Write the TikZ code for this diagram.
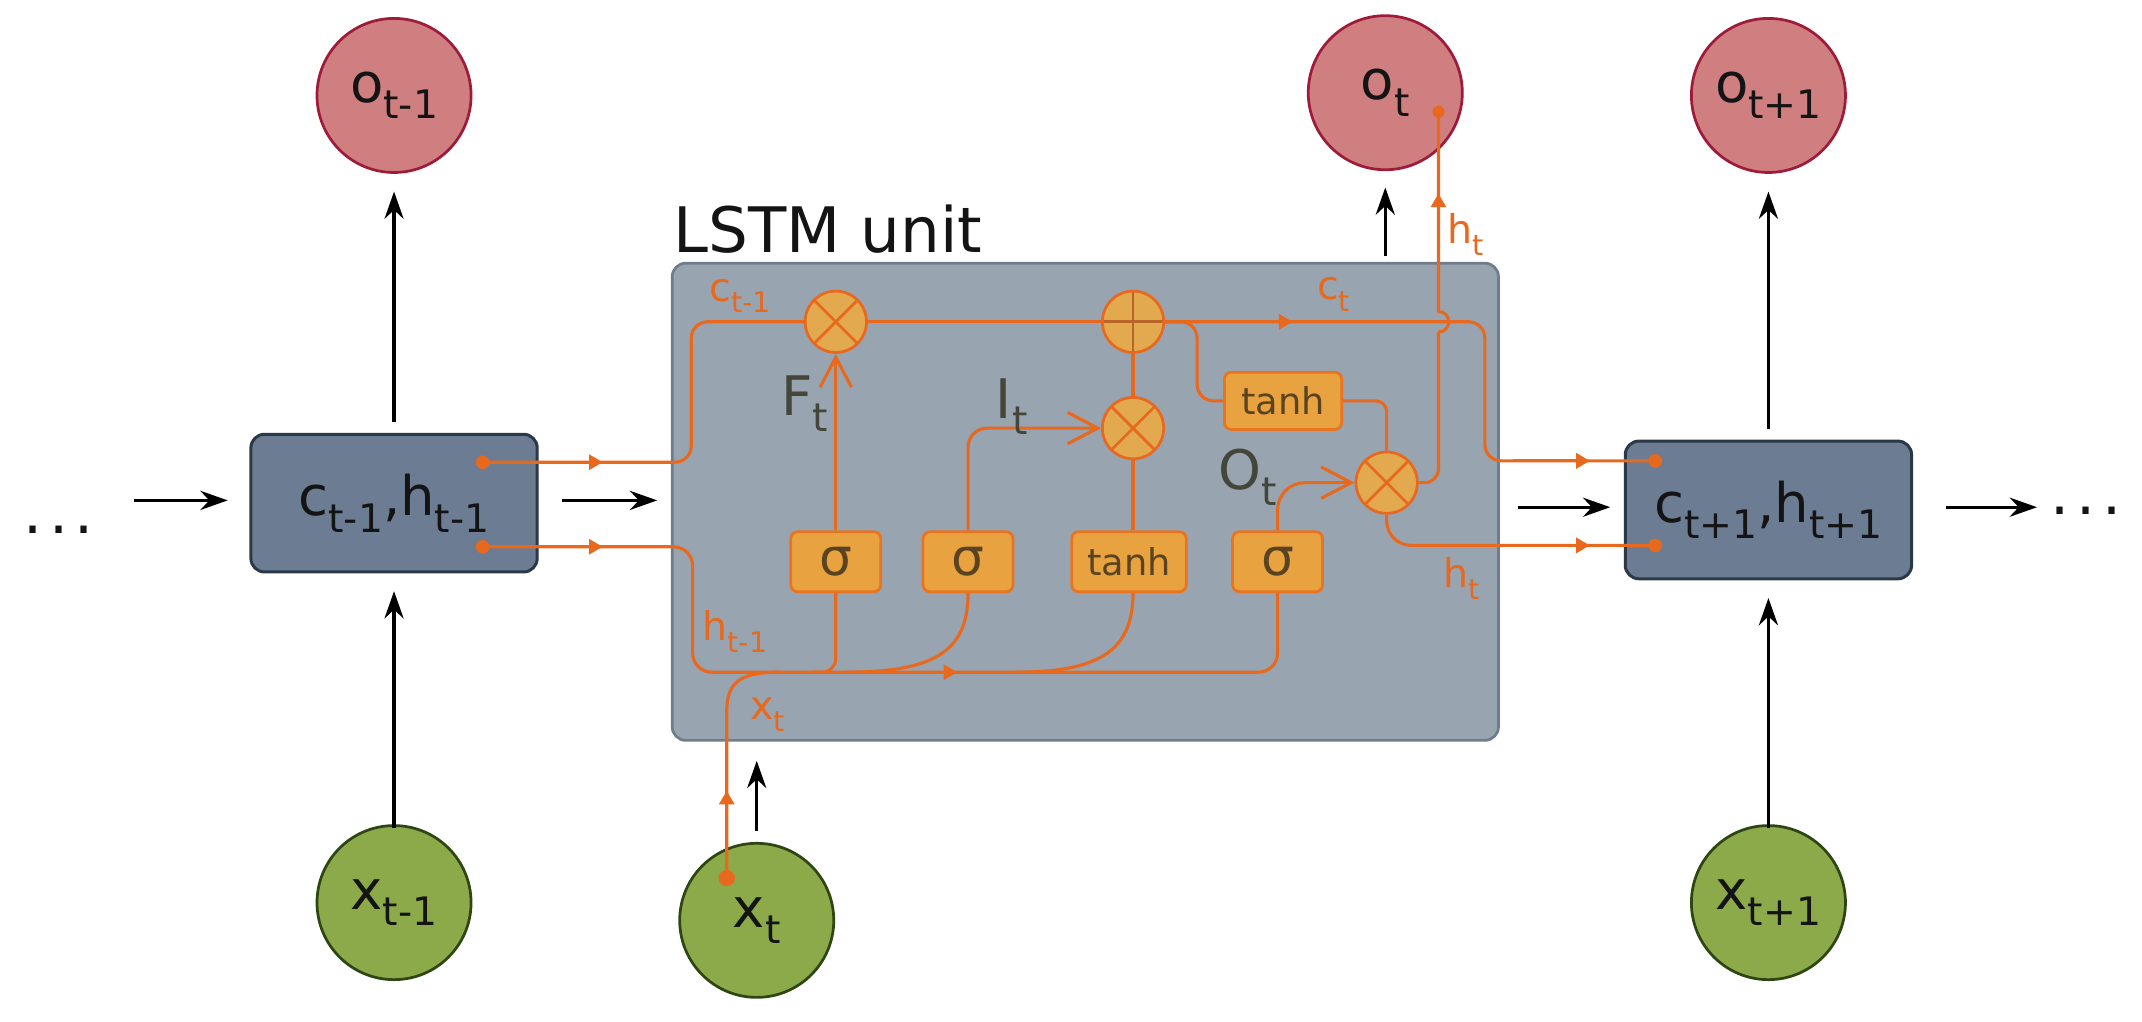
\documentclass[tikz,border=0pt]{standalone}
\usepackage{fontspec}
\setmainfont{DejaVu Sans}
\usepackage{graphicx}
\usetikzlibrary{arrows.meta}
\definecolor{redf}{HTML}{D07F80}
\definecolor{redb}{HTML}{9E1B3A}
\definecolor{greenf}{HTML}{8DAA4B}
\definecolor{greenb}{HTML}{2E4612}
\definecolor{boxf}{HTML}{6C7D93}
\definecolor{boxb}{HTML}{2B3848}
\definecolor{lstmf}{HTML}{99A4B1}
\definecolor{lstmb}{HTML}{6E7C8C}
\definecolor{orl}{HTML}{E8691E}
\definecolor{gatef}{HTML}{E8A23F}
\definecolor{gateb}{HTML}{E8741F}
\definecolor{opf}{HTML}{E2A94F}
\definecolor{gatet}{HTML}{5A4320}
\definecolor{lblt}{HTML}{45463A}
\definecolor{plusl}{HTML}{B8652A}
\definecolor{inkc}{HTML}{141414}
\newcommand\sbs[1]{\raisebox{-0.3em}{\scalebox{0.72}{#1}}}
\newcommand\fsz[1]{\fontsize{#1}{#1}\selectfont}
\newcommand\spdots{.\hspace{5pt}.\hspace{5pt}.}
\begin{document}
\begin{tikzpicture}[x=1pt,y=-1pt,line join=round,
  rcirc/.style={circle, draw=redb, fill=redf, line width=2pt, minimum size=113pt, inner sep=0pt, font=\fsz{40}, text=inkc},
  gcirc/.style={circle, draw=greenb, fill=greenf, line width=2pt, minimum size=113pt, inner sep=0pt, font=\fsz{40}, text=inkc},
  hbox/.style={rectangle, rounded corners=10pt, draw=boxb, fill=boxf, line width=2.2pt, minimum width=210pt, minimum height=101pt, inner sep=0pt, font=\fsz{40}, text=inkc},
  lstm/.style={rectangle, rounded corners=10pt, draw=lstmb, fill=lstmf, line width=2pt, minimum width=606pt, minimum height=350pt},
  gate/.style={rectangle, rounded corners=5pt, draw=gateb, fill=gatef, line width=2pt, minimum height=44pt, inner sep=0pt, text=gatet},
  opc/.style={circle, draw=orl, fill=opf, line width=2pt, minimum size=45pt, inner sep=0pt},
  xop/.style={path picture={\draw[orl, line width=2pt]
     ([shift={(-30pt,-30pt)}]path picture bounding box.center) -- ([shift={(30pt,30pt)}]path picture bounding box.center)
     ([shift={(-30pt,30pt)}]path picture bounding box.center) -- ([shift={(30pt,-30pt)}]path picture bounding box.center);}},
  pop/.style={path picture={\draw[plusl, line width=2pt]
     ([shift={(-30pt,0pt)}]path picture bounding box.center) -- ([shift={(30pt,0pt)}]path picture bounding box.center)
     ([shift={(0pt,30pt)}]path picture bounding box.center) -- ([shift={(0pt,-30pt)}]path picture bounding box.center);}},
  wire/.style={draw=orl, line width=2.3pt},
  tri/.style={wire, -{Triangle[length=10pt,width=11pt]}},
  barb/.style={-{Straight Barb[length=22pt,width=23pt]}},
  barrow/.style={draw=black, line width=2.4pt, -{Stealth[length=20pt,width=14pt]}},
  olbl/.style={text=orl, font=\fsz{29}, inner sep=0pt},
  glbl/.style={text=lblt, font=\fsz{40}, inner sep=0pt}
]
\useasboundingbox (0,0) rectangle (1571,749);

% outer circles
\node[rcirc] (o1) at (289,70) {o\sbs{t-1}};
\node[rcirc] (o2) at (1016,68) {o\sbs{t}};
\node[rcirc] (o3) at (1297,70) {o\sbs{t+1}};
\node[gcirc] (x1) at (289,662) {x\sbs{t-1}};
\node[gcirc] (x2) at (555,675) {x\sbs{t}};
\node[gcirc] (x3) at (1297,662) {x\sbs{t+1}};

% state boxes
\node[hbox] (h1) at (289,369) {c\sbs{t-1},h\sbs{t-1}};
\node[hbox] (h3) at (1297,374) {c\sbs{t+1},h\sbs{t+1}};

% LSTM cell
\node[lstm] (cell) at (796,368) {};
\node[anchor=base west, font=\fsz{46}, text=inkc, inner sep=0pt] (title) at (494,185) {LSTM unit};

% operators
\node[opc, xop] (fx) at (613,236) {};
\node[opc, pop] (plus) at (831,236) {};
\node[opc, xop] (ix) at (831,314) {};
\node[opc, xop] (ox) at (1017,354) {};

% gates
\node[gate, minimum width=66pt, font=\fsz{38}] (sg1) at (613,412) {σ};
\node[gate, minimum width=66pt, font=\fsz{38}] (sg2) at (710,412) {σ};
\node[gate, minimum width=84pt, font=\fsz{27}] (lt) at (828,412) {tanh};
\node[gate, minimum width=66pt, font=\fsz{38}] (sg3) at (937,412) {σ};
\node[gate, minimum width=86pt, minimum height=42pt, font=\fsz{27}] (ut) at (941,294) {tanh};

% dots
\node[font=\fsz{44}, anchor=base, text=inkc, inner sep=0pt] (dl) at (43,391) {\spdots};
\node[font=\fsz{44}, anchor=base, text=inkc, inner sep=0pt] (dr) at (1530,377) {\spdots};

% black arrows
\coordinate (a1s) at (98,367);  \coordinate (a1e) at (167,367);
\coordinate (a2s) at (412,367); \coordinate (a2e) at (482,367);
\coordinate (a3s) at (1113,372); \coordinate (a3e) at (1181,372);
\coordinate (a4s) at (1427,372); \coordinate (a4e) at (1494,372);
\draw[barrow] (a1s) -- (a1e);
\draw[barrow] (a2s) -- (a2e);
\draw[barrow] (a3s) -- (a3e);
\draw[barrow] (a4s) -- (a4e);
\draw[barrow] ([yshift=8pt]h1.north) -- ([yshift=-13pt]o1.south);
\draw[barrow] ([yshift=-3pt]x1.north) -- ([yshift=-13pt]h1.south);
\draw[barrow] ([yshift=8pt]h3.north) -- ([yshift=-13pt]o3.south);
\draw[barrow] ([yshift=-3pt]x3.north) -- ([yshift=-13pt]h3.south);
\draw[barrow] ([yshift=4pt]cell.north -| o2) -- ([yshift=-12pt]o2.south);
\draw[barrow] ([yshift=8pt]x2.north) -- ([yshift=-14pt]x2.north |- cell.south);

% orange wires
\coordinate (ld1) at (354,339);
\coordinate (ld2) at (354,401);
\coordinate (rd1) at (1214,338);
\coordinate (rd2) at (1214,400);
\coordinate (xd) at (533,644);
\coordinate (od) at (1055,82);

% cell state
\draw[wire, rounded corners=12pt] (ld1) -- (507,339) -- (507,236) -- (fx.west);
\draw[tri] (ld1) -- (442,339);
\draw[wire] (fx.east) -- (plus.west);
\draw[wire, rounded corners=12pt] (plus.east) -- (1089,236) -- (1089,338) -- (rd1);
\draw[tri] (plus.east) -- (948,236);
\draw[tri] (1110,338) -- (1166,338);
\draw[wire, rounded corners=12pt] (plus.east) -- (878,236) -- (878,294) -- (ut.west);
\draw[wire, rounded corners=8pt] (ut.east) -- (ut.east -| ox) -- (ox.north);

% hidden output
\draw[wire, rounded corners=10pt] (ox.east) -- (1055,354) -- (1055,243.5);
\draw[wire] (1055,243.5) .. controls (1065,243.5) and (1065,228.5) .. (1055,228.5) -- (od);
\draw[tri] (1055,200) -- (1055,142);
\draw[wire, rounded corners=18pt] (ox.south) -- (ox.south |- rd2) -- (rd2);
\draw[tri] (1110,400) -- (1166,400);

% gate connections
\draw[wire, barb] (sg1.north) -- (fx.south);
\draw[wire, rounded corners=14pt, barb] (sg2.north) -- (sg2.north |- ix.west) -- (ix.west);
\draw[wire] (lt.north -| ix) -- (ix.south);
\draw[wire] (plus.south) -- (ix.north);
\draw[wire, rounded corners=20pt, barb] (sg3.north) -- (sg3.north |- ox.west) -- (ox.west);

% input bus
\draw[wire, rounded corners=14pt] (ld2) -- (508,401) -- (508,493) -- (937,493) -- (sg3.south);
\draw[tri] (ld2) -- (442,401);
\draw[tri] (650,493) -- (702,493);
\draw[wire, rounded corners=10pt] (sg1.south) -- (613,493) -- (595,493);
\draw[wire] (sg2.south) .. controls (710,478) and (685,493) .. (620,493);
\draw[wire] (lt.south -| ix) .. controls (831,478) and (805,493) .. (745,493);
\draw[wire] (xd) -- (533,522) .. controls (533,500) and (543,493) .. (572,493);
\draw[tri] (xd) -- (533,580);

% dots
\fill[orl] (ld1) circle[radius=5pt];
\fill[orl] (ld2) circle[radius=5pt];
\fill[orl] (rd1) circle[radius=5pt];
\fill[orl] (rd2) circle[radius=5pt];
\fill[orl] (xd) circle[radius=6pt];
\fill[orl] (od) circle[radius=4.5pt];

% labels
\node[olbl] (lc1) at (543,217) {c\sbs{t-1}};
\node[olbl] (lct) at (978,216) {c\sbs{t}};
\node[olbl] (lh1) at (539,463) {h\sbs{t-1}};
\node[olbl] (lxt) at (563,524) {x\sbs{t}};
\node[olbl] (lht1) at (1075,172) {h\sbs{t}};
\node[olbl] (lht2) at (1072,424) {h\sbs{t}};
\node[glbl] (lF) at (590,296) {F\sbs{t}};
\node[glbl] (lI) at (742,298) {I\sbs{t}};
\node[glbl] (lO) at (915,350) {O\sbs{t}};
\end{tikzpicture}
\end{document}
